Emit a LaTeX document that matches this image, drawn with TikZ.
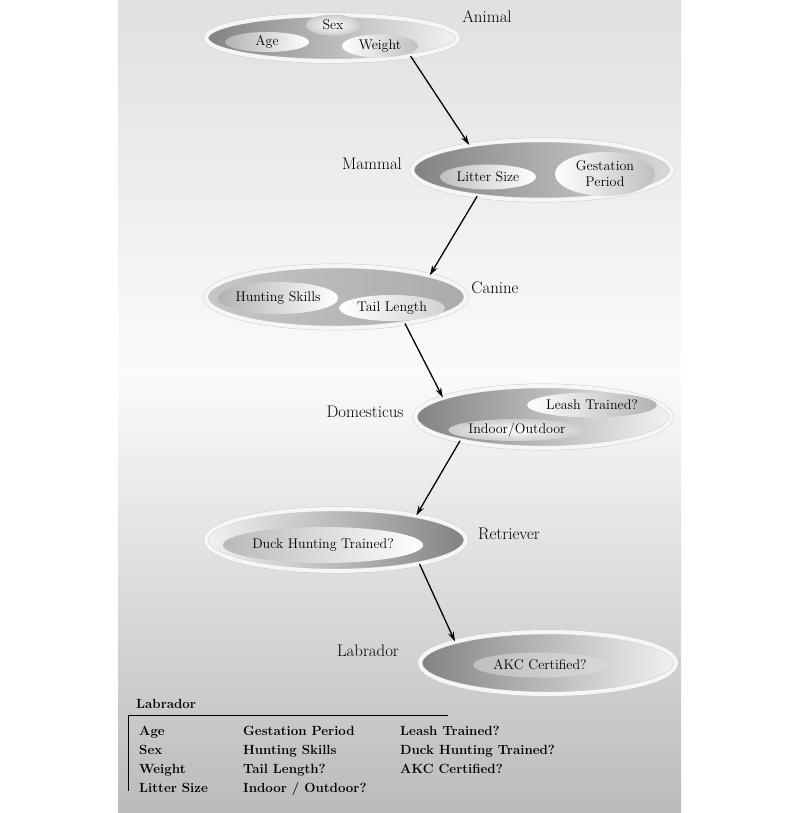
\documentclass[tikz,border=0pt]{standalone}
\usepackage{fontspec}
\usetikzlibrary{shapes.geometric,arrows.meta}
\definecolor{bgtop}{HTML}{E0E0E0}
\definecolor{bgmid}{HTML}{FBFBFB}
\definecolor{bgbot}{HTML}{BBBBBB}
\definecolor{dk}{HTML}{828282}
\definecolor{md}{HTML}{9A9A9A}
\definecolor{lt}{HTML}{F2F2F2}
\definecolor{rimline}{HTML}{C8C8C8}
\definecolor{rimfill}{HTML}{F6F6F6}
\begin{document}
\begin{tikzpicture}[x=1pt,y=-1pt,
  outer/.style={ellipse, inner sep=0pt, draw=rimline, double=rimfill, double distance=4pt},
  inner/.style={ellipse, inner sep=0pt, font=\fontsize{14}{16}\selectfont},
  lbl/.style={font=\fontsize{16.8}{18}\selectfont, inner sep=0pt},
  leg/.style={font=\fontsize{13.3}{15}\selectfont\bfseries, anchor=base west, inner sep=0pt},
  arr/.style={-{Stealth[length=10pt,width=6pt]}, line width=1.3pt}]
\useasboundingbox (0,0) rectangle (807,813);
\fill[white] (0,0) rectangle (807,813);
\shade[top color=bgtop, bottom color=bgmid] (118,0) rectangle (681,372);
\shade[top color=bgmid, bottom color=bgbot] (118,371) rectangle (681,813);

% Animal
\node[outer, minimum width=252pt, minimum height=46pt, left color=dk, middle color=md, right color=lt] (animal) at (332,38) {};
\node[inner, minimum width=84pt, minimum height=20pt, left color=gray!60, right color=white] (age) at (267,42) {Age};
\node[inner, minimum width=54pt, minimum height=21pt, inner color=white, outer color=gray!40] (sex) at (333,25) {Sex};
\node[inner, minimum width=76pt, minimum height=23pt, left color=white, right color=gray!50] (weight) at (380,46) {Weight};
\node[lbl] (lanimal) at (487,17) {Animal};

% Mammal
\node[outer, minimum width=260pt, minimum height=60pt, left color=dk, middle color=gray!64, right color=gray!30] (mammal) at (542,170) {};
\node[inner, minimum width=96pt, minimum height=25pt, left color=gray!50, right color=white] (litter) at (488,177) {Litter Size};
\node[inner, minimum width=100pt, minimum height=44pt, left color=white, right color=gray!50, align=center] (gest) at (605,174) {Gestation\\Period};
\node[lbl] (lmammal) at (372,164) {Mammal};

% Canine
\node[outer, minimum width=260pt, minimum height=62pt, left color=gray!45, middle color=gray!62, right color=gray!66] (canine) at (336,297) {};
\node[inner, minimum width=110pt, minimum height=32pt, left color=gray!60, right color=white] (hunt) at (278,298) {Hunting Skills};
\node[inner, minimum width=106pt, minimum height=26pt, left color=white, right color=gray!35] (tail) at (392,308) {Tail Length};
\node[lbl] (lcanine) at (495,288) {Canine};

% Domesticus
\node[outer, minimum width=256pt, minimum height=62pt, left color=dk, middle color=gray!60, right color=lt] (domest) at (543,417) {};
\node[inner, minimum width=116pt, minimum height=25pt, left color=white, right color=gray!60] (leash) at (592,405) {Leash Trained?};
\node[inner, minimum width=128pt, minimum height=22pt, inner color=white, outer color=gray!40] (indoor) at (517,430) {Indoor/Outdoor};
\node[lbl] (ldomest) at (365,412) {Domesticus};

% Retriever
\node[outer, minimum width=260pt, minimum height=62pt, left color=lt, middle color=gray!55, right color=dk] (retr) at (336,540) {};
\node[inner, minimum width=166pt, minimum height=36pt, left color=gray!55, right color=white] (duck) at (323,545) {Duck Hunting Trained?};
\node[lbl] (lretr) at (509,534) {Retriever};

% Labrador
\node[outer, minimum width=256pt, minimum height=62pt, left color=dk, middle color=gray!64, right color=lt] (labr) at (548,663) {};
\node[inner, minimum width=134pt, minimum height=25pt, left color=gray!50, middle color=white, right color=gray!30] (akc) at (540,665) {AKC Certified?};
\node[lbl] (llabr) at (368,651) {Labrador};

% arrows
\draw[arr] (animal.-13.5) -- (mammal.161);
\draw[arr] (mammal.-158.5) -- (canine.13);
\draw[arr] (canine.-21) -- (domest.169);
\draw[arr] (domest.-164) -- (retr.17);
\draw[arr] (retr.-16) -- (labr.167);

% legend
\node[leg] (lgtitle) at (136,708) {Labrador};
\coordinate (lgc) at (128,715);
\coordinate (lgr) at (448,715);
\coordinate (lgb) at (128,791);
\draw[line width=1pt] (lgr) -- (lgc) -- (lgb);
\node[leg] (l11) at (139,735) {Age};
\node[leg] (l12) at (139,754) {Sex};
\node[leg] (l13) at (139,773) {Weight};
\node[leg] (l14) at (139,792) {Litter Size};
\node[leg] (l21) at (243,735) {Gestation Period};
\node[leg] (l22) at (243,754) {Hunting Skills};
\node[leg] (l23) at (243,773) {Tail Length?};
\node[leg] (l24) at (243,792) {Indoor / Outdoor?};
\node[leg] (l31) at (400,735) {Leash Trained?};
\node[leg] (l32) at (400,754) {Duck Hunting Trained?};
\node[leg] (l33) at (400,773) {AKC Certified?};
\end{tikzpicture}
\end{document}
